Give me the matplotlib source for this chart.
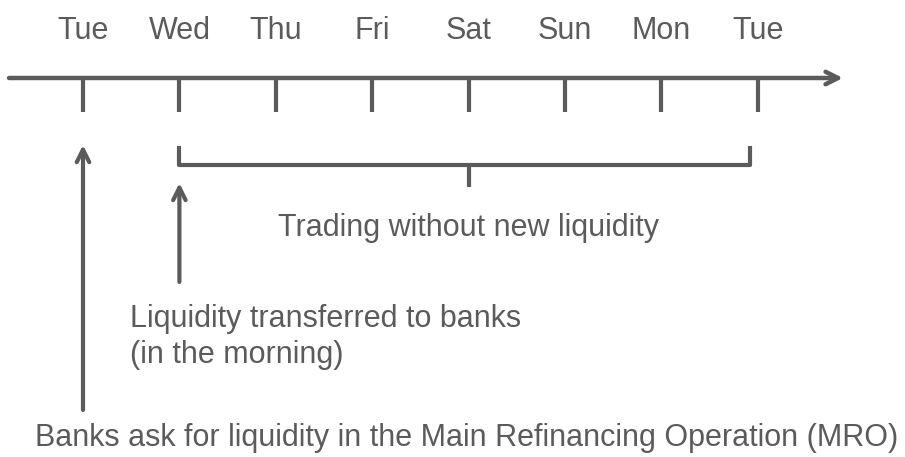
import matplotlib.pyplot as plt

days = ['Tue', 'Wed', 'Thu', 'Fri', 'Sat', 'Sun', 'Mon', 'Tue']
mro_day = 0          # banks ask for liquidity
settle_day = 1       # liquidity transferred
period_end = 7       # end of the period without new liquidity

txt_trading = 'Trading without new liquidity'
txt_transfer = 'Liquidity transferred to banks\n(in the morning)'
txt_mro = 'Banks ask for liquidity in the Main Refinancing Operation (MRO)'

grey = '#5b5b5b'
fs = 22
plt.rcParams['font.family'] = ['Liberation Sans', 'DejaVu Sans']

fig = plt.figure(figsize=(9.05, 4.57), dpi=100)
ax = fig.add_axes([0, 0, 1, 1])
step = 96.4
x0 = 83
ax.set_xlim(-x0 / step, (905 - x0) / step)
ax.set_ylim(457, 0)
ax.axis('off')

# time axis with arrow
ax.annotate('', xy=((843 - x0) / step, 78), xytext=((9 - x0) / step, 78),
            arrowprops=dict(arrowstyle='->,head_length=0.9,head_width=0.45',
                            color=grey, lw=3.2, shrinkA=0, shrinkB=0))

for i, d in enumerate(days):
    ax.plot([i, i], [78, 112], color=grey, lw=3, solid_capstyle='butt')
    ax.text(i, 31, d, ha='center', va='center', fontsize=fs, color=grey)

# bracket over the trading days
mid = (settle_day + period_end) / 2
ax.plot([settle_day, settle_day, period_end - 0.08, period_end - 0.08], [146, 165, 165, 146],
        color=grey, lw=3, solid_joinstyle='round', solid_capstyle='butt')
ax.plot([mid, mid], [165, 187], color=grey, lw=3, solid_capstyle='butt')
ax.text(mid, 228, txt_trading, ha='center', va='center', fontsize=fs, color=grey)

# arrows pointing at the days
ax.annotate('', xy=(settle_day, 183), xytext=(settle_day, 282),
            arrowprops=dict(arrowstyle='->,head_length=0.9,head_width=0.45',
                            color=grey, lw=3, shrinkA=0, shrinkB=0))
ax.annotate('', xy=(mro_day, 145), xytext=(mro_day, 410),
            arrowprops=dict(arrowstyle='->,head_length=0.9,head_width=0.45',
                            color=grey, lw=3, shrinkA=0, shrinkB=0))

ax.text((130 - x0) / step, 337, txt_transfer, ha='left', va='center',
        fontsize=fs, color=grey, linespacing=1.25)
ax.text((35 - x0) / step, 438, txt_mro, ha='left', va='center',
        fontsize=fs, color=grey)

fig.savefig('out.png', dpi=100)
